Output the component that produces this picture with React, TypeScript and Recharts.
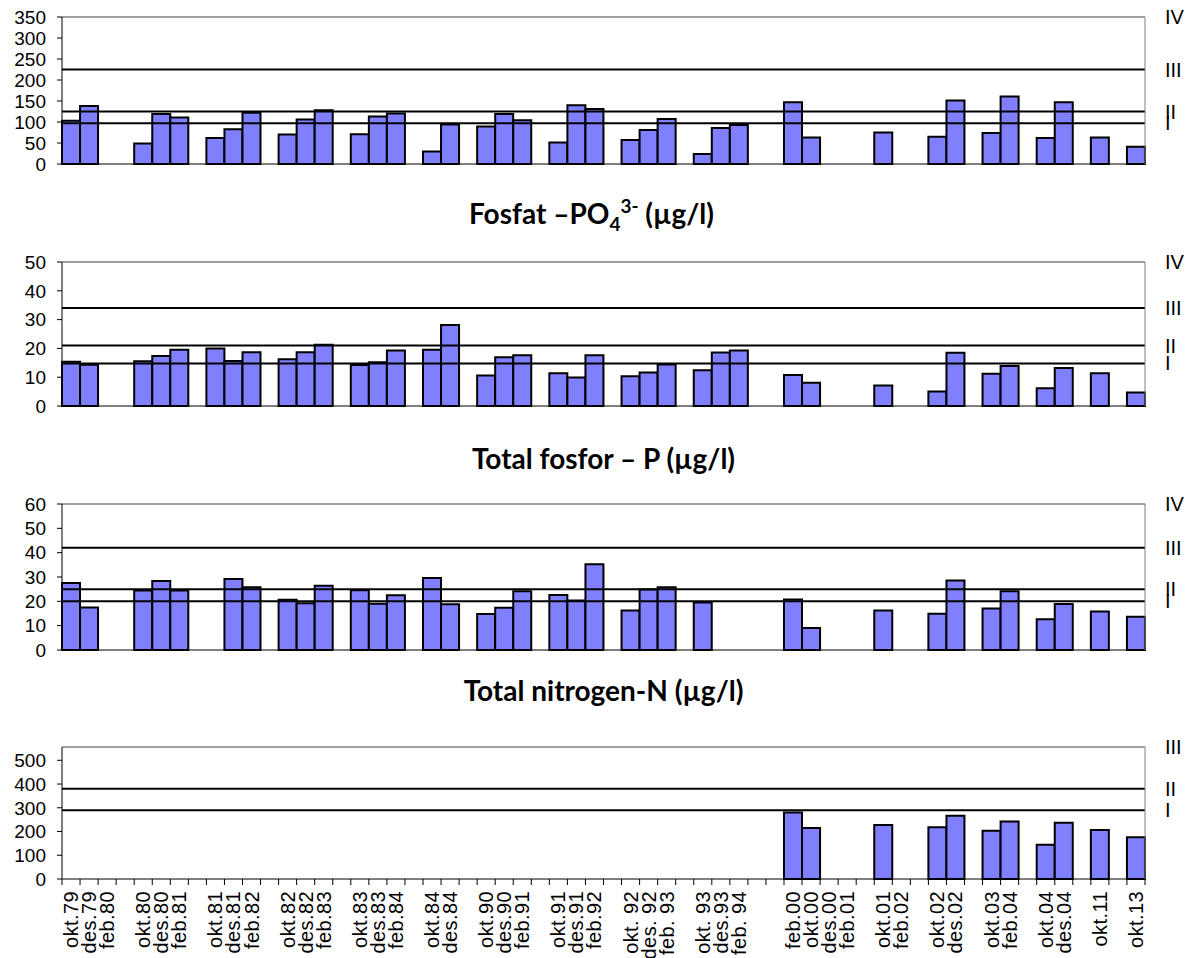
import React from 'react';
import { BarChart, Bar, XAxis, YAxis, ReferenceLine } from 'recharts';

// 60 slots along the x axis, empty strings are the gaps between seasons
const categories = [
  'okt.79', 'des.79', 'feb.80', '',
  'okt.80', 'des.80', 'feb.81', '',
  'okt.81', 'des.81', 'feb.82', '',
  'okt.82', 'des.82', 'feb.83', '',
  'okt.83', 'des.83', 'feb.84', '',
  'okt.84', 'des.84', '',
  'okt.90', 'des.90', 'feb.91', '',
  'okt.91', 'des.91', 'feb.92', '',
  'okt. 92', 'des. 92', 'feb. 93', '',
  'okt. 93', 'des.93', 'feb. 94', '', '',
  'feb.00', 'okt.00', 'des.00', 'feb.01', '',
  'okt.01', 'feb.02', '',
  'okt.02', 'des.02', '',
  'okt.03', 'feb.04', '',
  'okt.04', 'des.04', '',
  'okt.11', '',
  'okt.13',
];

const _ = null;

const topPanelValues = [
  103, 138, _, _,
  49, 119, 111, _,
  62, 83, 122, _,
  70, 106, 128, _,
  71, 113, 120, _,
  30, 94, _,
  89, 119, 104, _,
  51, 140, 131, _,
  57, 81, 107, _,
  24, 86, 93, _, _,
  147, 63, _, _, _,
  75, _, _,
  65, 151, _,
  74, 161, _,
  62, 147, _,
  63, _,
  41,
];

const fosfatValues = [
  15.4, 14.3, _, _,
  15.5, 17.4, 19.5, _,
  20.0, 15.6, 18.7, _,
  16.2, 18.7, 21.3, _,
  14.2, 15.2, 19.3, _,
  19.5, 28.1, _,
  10.6, 16.9, 17.6, _,
  11.4, 9.9, 17.6, _,
  10.3, 11.6, 14.4, _,
  12.4, 18.6, 19.3, _, _,
  10.8, 8.1, _, _, _,
  7.1, _, _,
  5.0, 18.5, _,
  11.2, 13.9, _,
  6.2, 13.2, _,
  11.4, _,
  4.7,
];

const fosforValues = [
  27.5, 17.5, _, _,
  24.5, 28.4, 24.5, _,
  _, 29.2, 25.8, _,
  20.7, 19.2, 26.4, _,
  24.6, 19.0, 22.5, _,
  29.6, 18.8, _,
  14.8, 17.4, 24.1, _,
  22.6, 20.3, 35.2, _,
  16.2, 24.9, 25.8, _,
  19.5, _, _, _, _,
  20.8, 9.0, _, _, _,
  16.2, _, _,
  14.9, 28.6, _,
  17.1, 24.1, _,
  12.6, 18.9, _,
  15.8, _,
  13.7,
];

const nitrogenValues = [
  _, _, _, _,
  _, _, _, _,
  _, _, _, _,
  _, _, _, _,
  _, _, _, _,
  _, _, _,
  _, _, _, _,
  _, _, _, _,
  _, _, _, _,
  _, _, _, _, _,
  280, 215, _, _, _,
  227, _, _,
  218, 266, _,
  203, 242, _,
  144, 237, _,
  206, _,
  176,
];

const topTicks = [0, 50, 100, 150, 200, 250, 300, 350];
const fosfatTicks = [0, 10, 20, 30, 40, 50];
const fosforTicks = [0, 10, 20, 30, 40, 50, 60];
const nitrogenTicks = [0, 100, 200, 300, 400, 500];

const topLimits = [225, 125, 97];
const fosfatLimits = [34, 21, 14.8];
const fosforLimits = [42, 25, 20];
const nitrogenLimits = [380, 290];

const fourClasses = ['IV', 'III', 'II', 'I'];
const threeClasses = ['III', 'II', 'I'];

const W = 1195;
const LEFT = 62;
const RIGHT = 50;
const BAND = (W - LEFT - RIGHT) / categories.length;
const ARIAL = '"Liberation Sans", Arial, sans-serif';

const DateTick = (props: any) => {
  const { x, y, payload, index } = props;
  const half = BAND / 2;
  return (
    <g>
      <line x1={x - half} y1={y} x2={x - half} y2={y + 6} stroke="#000" strokeWidth={1} />
      {index === categories.length - 1 && (
        <line x1={x + half} y1={y} x2={x + half} y2={y + 6} stroke="#000" strokeWidth={1} />
      )}
      {payload.value ? (
        <text
          transform={`translate(${x},${y + 12}) rotate(-90)`}
          textAnchor="end"
          dominantBaseline="central"
          fontFamily={ARIAL}
          fontSize={20}
          letterSpacing={0.4}
          fill="#000"
        >
          {payload.value}
        </text>
      ) : null}
    </g>
  );
};

type PanelProps = {
  values: (number | null)[];
  max: number;
  ticks: number[];
  limits: number[];
  classes: string[];
  plotTop: number;
  plotHeight: number;
  withDates?: boolean;
};

const Panel = ({ values, max, ticks, limits, classes, plotTop, plotHeight, withDates }: PanelProps) => {
  const data = categories.map((name, i) => ({ name, value: values[i] }));
  const xHeight = withDates ? 80 : 1;
  const bottom = withDates ? 0 : 14;
  const height = 12 + plotHeight + xHeight + bottom;
  const labelStyle = { position: 'right' as const, offset: 20, fill: '#000', fontSize: 20, fontFamily: ARIAL };

  return (
    <div style={{ position: 'absolute', left: 0, top: plotTop - 12 }}>
      <BarChart
        width={W}
        height={height}
        data={data}
        margin={{ top: 12, right: 0, bottom, left: 0 }}
        barCategoryGap={0}
        barGap={0}
        style={{ overflow: 'visible' }}
      >
        <XAxis
          dataKey="name"
          interval={0}
          height={xHeight}
          axisLine={{ stroke: '#000' }}
          tickLine={false}
          tickSize={0}
          tickMargin={0}
          tick={withDates ? DateTick : false}
        />
        <YAxis
          domain={[0, max]}
          ticks={ticks}
          interval={0}
          width={LEFT}
          tickSize={5}
          tickMargin={11}
          axisLine={{ stroke: '#000' }}
          tickLine={{ stroke: '#000' }}
          tick={{ fill: '#000', fontSize: 19, fontFamily: ARIAL }}
        />
        <YAxis
          yAxisId="r"
          orientation="right"
          width={RIGHT}
          domain={[0, max]}
          tick={false}
          tickLine={false}
          axisLine={{ stroke: '#808080' }}
        />
        <Bar dataKey="value" fill="#8080FF" stroke="#000" strokeWidth={2} isAnimationActive={false} />
        <ReferenceLine y={max} stroke="#808080" strokeWidth={1.5} label={{ value: classes[0], ...labelStyle }} />
        {limits.map((l, i) => (
          <ReferenceLine
            key={l}
            y={l}
            stroke="#000"
            strokeWidth={2}
            label={{ value: classes[i + 1], ...labelStyle }}
          />
        ))}
      </BarChart>
    </div>
  );
};

const titleStyle: React.CSSProperties = {
  position: 'absolute',
  left: LEFT,
  width: W - LEFT - RIGHT,
  textAlign: 'center',
  fontFamily: 'Lato, "Open Sans", sans-serif',
  fontWeight: 700,
  fontSize: 28,
  lineHeight: '30px',
  color: '#000',
};

export default function App() {
  return (
    <div style={{ position: 'absolute', left: 0, top: 0, width: W, height: 958, background: '#fff', overflow: 'hidden' }}>
      <Panel values={topPanelValues} max={350} ticks={topTicks} limits={topLimits} classes={fourClasses} plotTop={17} plotHeight={147} />
      <div style={{ ...titleStyle, top: 198, left: LEFT - 12 }}>
        Fosfat –PO
        <span style={{ fontSize: '68%', position: 'relative', top: '0.35em' }}>4</span>
        <span style={{ fontSize: '68%', position: 'relative', top: '-0.6em' }}>3-</span> (µg/l)
      </div>
      <Panel values={fosfatValues} max={50} ticks={fosfatTicks} limits={fosfatLimits} classes={fourClasses} plotTop={262} plotHeight={144} />
      <div style={{ ...titleStyle, top: 443 }}>Total fosfor – P (µg/l)</div>
      <Panel values={fosforValues} max={60} ticks={fosforTicks} limits={fosforLimits} classes={fourClasses} plotTop={504} plotHeight={146} />
      <div style={{ ...titleStyle, top: 675 }}>Total nitrogen-N (µg/l)</div>
      <Panel values={nitrogenValues} max={556} ticks={nitrogenTicks} limits={nitrogenLimits} classes={threeClasses} plotTop={747} plotHeight={132} withDates />
    </div>
  );
}
